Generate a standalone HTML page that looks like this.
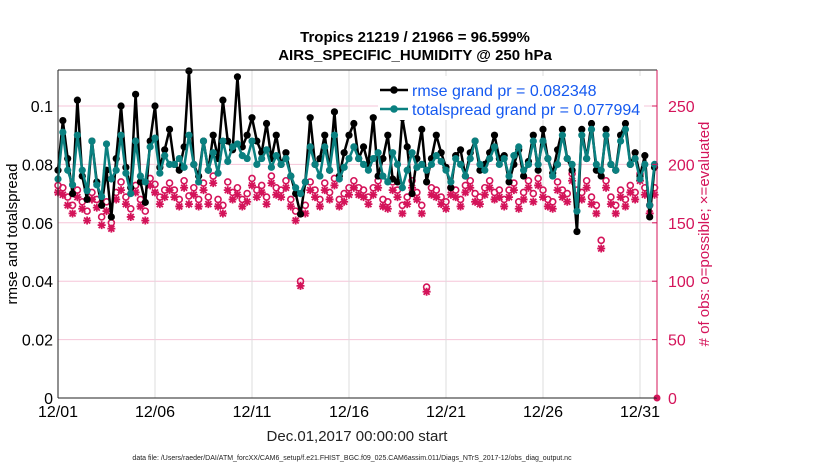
<!DOCTYPE html>
<html><head><meta charset="utf-8"><style>
body{margin:0;background:#fff;}
svg{display:block;font-family:"Liberation Sans",Arial,sans-serif;}
</style></head><body>
<svg id="c" width="830" height="470" viewBox="0 0 830 470">
<text x="415" y="42" text-anchor="middle" font-size="15" font-weight="bold">Tropics 21219 / 21966 = 96.599%</text>
<text x="415" y="60" text-anchor="middle" font-size="15" font-weight="bold">AIRS_SPECIFIC_HUMIDITY @ 250 hPa</text>
<g id="grid"></g><g id="marks"></g><g id="axes"></g>
<text transform="translate(17,234) rotate(-90)" text-anchor="middle" font-size="15">rmse and totalspread</text>
<text transform="translate(709,234) rotate(-90)" text-anchor="middle" font-size="15" fill="#d4145a"># of obs: o=possible; ×=evaluated</text>
<text x="357" y="441" text-anchor="middle" font-size="15" fill="#222">Dec.01,2017 00:00:00 start</text>
<text x="352" y="460" text-anchor="middle" font-size="7" fill="#222">data file: /Users/raeder/DAI/ATM_forcXX/CAM6_setup/f.e21.FHIST_BGC.f09_025.CAM6assim.011/Diags_NTrS_2017-12/obs_diag_output.nc</text>
<g id="legend">
<rect x="378" y="76" width="266" height="44" fill="#fff"/>
<line x1="380" y1="90" x2="408" y2="90" stroke="#000" stroke-width="2.5"/><circle cx="394" cy="90" r="3.8" fill="#000"/>
<text x="412" y="96" font-size="16" fill="#1559f0">rmse grand pr = 0.082348</text>
<line x1="380" y1="109" x2="408" y2="109" stroke="#0a8080" stroke-width="2.5"/><circle cx="394" cy="109" r="3.8" fill="#0a8080"/>
<text x="412" y="115" font-size="16" fill="#1559f0">totalspread grand pr = 0.077994</text>
</g>
</svg>
<script>
const rmse=[.078,.095,.082,.070,.102,.076,.068,.088,.074,.066,.078,.062,.082,.100,.079,.072,.104,.074,.067,.088,.100,.079,.085,.092,.080,.078,.086,
.112,
.080,.076,.088,.078,.090,.082,.102,.088,.085,
.110,
.086,.090,.096,.088,.084,.094,.082,.090,.080,.084,.076,.070,
.063,
.074,.096,.080,.082,.090,.078,.098,.076,.084,.090,.094,.082,.086,.080,.096,.076,.082,.090,.075,.074,.096,.086,.070,.082,.092,
.074,
.082,.090,.084,.079,.072,.083,.085,.076,.084,.088,.078,.080,.084,.090,.082,.083,.074,.080,.085,.076,.081,.090,.078,.092,.082,.077,.085,.092,.082,.078,
.057,
.092,.082,.094,.078,.076,.092,.080,.078,.090,.094,.080,.084,.076,.083,.062,.079];
const spread=[.075,.091,.078,.073,.090,.078,.071,.088,.073,.069,.087,.075,.078,.090,.077,.070,.088,.076,.074,.086,.089,.077,.083,.080,.080,.082,.079,
.090,
.080,.074,.088,.078,.084,.077,.088,.081,.086,
.087,
.083,.082,.088,.080,.082,.085,.079,.083,.080,.082,.076,.072,
.070,
.074,.086,.080,.076,.086,.078,.090,.075,.079,.082,.086,.082,.080,.078,.082,.084,.076,.074,.084,.080,.072,.078,.084,.079,.080,
.078,
.080,.083,.081,.078,.074,.082,.080,.076,.082,.088,.080,.078,.082,.086,.080,.082,.076,.083,.086,.078,.080,.088,.080,.088,.082,.076,.080,.090,.082,.080,
.064,
.090,.082,.092,.080,.078,.090,.080,.078,.088,.092,.080,.082,.075,.080,.066,.080];
const possible=[182,180,172,165,178,168,160,176,170,155,168,150,176,185,172,162,182,170,160,188,183,172,178,184,178,170,186,173,180,170,184,172,190,170,165,185,176,180,170,175,188,178,182,172,190,180,178,186,170,160,
100,
165,185,178,170,184,176,188,170,175,180,186,180,178,172,180,186,170,168,185,178,165,172,186,176,165,
95,
180,178,172,168,180,178,170,182,186,175,172,180,186,176,178,170,178,184,168,176,186,175,188,178,170,168,185,178,175,192,178,176,186,172,165,
135,
186,172,165,178,170,182,176,192,180,165,180];
const evaluated=[176,174,165,158,172,162,152,170,163,148,160,145,170,178,166,155,176,164,152,182,176,166,172,178,172,164,180,166,174,164,178,166,184,164,158,178,170,174,164,168,182,172,176,166,184,174,172,180,164,152,
96,
158,178,172,164,178,170,182,164,168,174,180,174,172,166,174,180,164,162,178,172,158,166,180,170,158,
91,
174,172,166,162,174,172,164,176,180,168,166,174,180,170,172,164,172,178,162,170,180,168,182,172,164,162,178,172,168,186,172,170,180,166,158,
128,
180,166,158,172,164,176,170,186,174,158,174];
const leftTicks=[0,0.02,0.04,0.06,0.08,0.1];
const rightTicks=[0,50,100,150,200,250];
const xTickDays=[0,5,10,15,20,25,30];
const xTickLabels=["12/01","12/06","12/11","12/16","12/21","12/26","12/31"];
const L=58,R=657,T=70,B=398;
const xs=d=>L+d*19.4;
const yl=v=>B-v*2920;
const yr=c=>B-c*1.168;
const NS="http://www.w3.org/2000/svg";
function mk(tag,attrs,parent){const e=document.createElementNS(NS,tag);for(const k in attrs)e.setAttribute(k,attrs[k]);parent.appendChild(e);return e;}
const grid=document.getElementById('grid'),marks=document.getElementById('marks'),axes=document.getElementById('axes');
mk('rect',{x:L,y:T,width:R-L,height:B-T,fill:'#fff'},grid);
leftTicks.forEach((v,i)=>{if(v>0){const g=mk('line',{x1:L,x2:R,y1:yl(v),y2:yl(v),stroke:'#f5c6d8','stroke-width':1},grid);

}
const t=mk('text',{x:L-5,y:yl(v)+6,'text-anchor':'end','font-size':16},axes);t.textContent=String(v);

});
rightTicks.forEach(c=>{mk('line',{x1:R,x2:R-5,y1:yr(c),y2:yr(c),stroke:'#d4145a'},axes);
const t=mk('text',{x:R+11,y:yr(c)+6,'font-size':16,fill:'#d4145a'},axes);t.textContent=String(c);

});
xTickDays.forEach((d,i)=>{if(d>0){const g=mk('line',{x1:xs(d),x2:xs(d),y1:T,y2:B,stroke:'#ddd'},grid);

}
const t=mk('text',{x:xs(d),y:B+19,'text-anchor':'middle','font-size':16},axes);t.textContent=xTickLabels[i];

});
const PINK='#d4145a';
possible.forEach((c,i)=>{const e=mk('circle',{cx:xs(i*0.25),cy:yr(c),r:3,fill:'none',stroke:PINK,'stroke-width':1.6},marks);

});
evaluated.forEach((c,i)=>{const x=xs(i*0.25),y=yr(c);const p=mk('path',{d:`M${x-4},${y}H${x+4}M${x},${y-4}V${y+4}M${x-3},${y-3}L${x+3},${y+3}M${x-3},${y+3}L${x+3},${y-3}`,stroke:PINK,'stroke-width':1.8},marks);

});
function series(arr,color,name){
const pts=arr.map((v,i)=>xs(i*0.25)+','+yl(v)).join(' ');
const pl=mk('polyline',{points:pts,fill:'none',stroke:color,'stroke-width':2.5,'stroke-linejoin':'round'},marks);


arr.forEach((v,i)=>{const c=mk('circle',{cx:xs(i*0.25),cy:yl(v),r:3.6,fill:color},marks);

});}
series(rmse,'#000','rmse');
series(spread,'#0a8080','totalspread');
const z=mk('circle',{cx:R,cy:B,r:3.5,fill:PINK},marks);


mk('line',{x1:L,x2:R,y1:T,y2:T,stroke:'#222'},axes);
mk('line',{x1:L,x2:R,y1:B,y2:B,stroke:'#222'},axes);
mk('line',{x1:L,x2:L,y1:T,y2:B,stroke:'#222'},axes);
mk('line',{x1:R,x2:R,y1:T,y2:B,stroke:PINK},axes);
</script>
</body></html>
